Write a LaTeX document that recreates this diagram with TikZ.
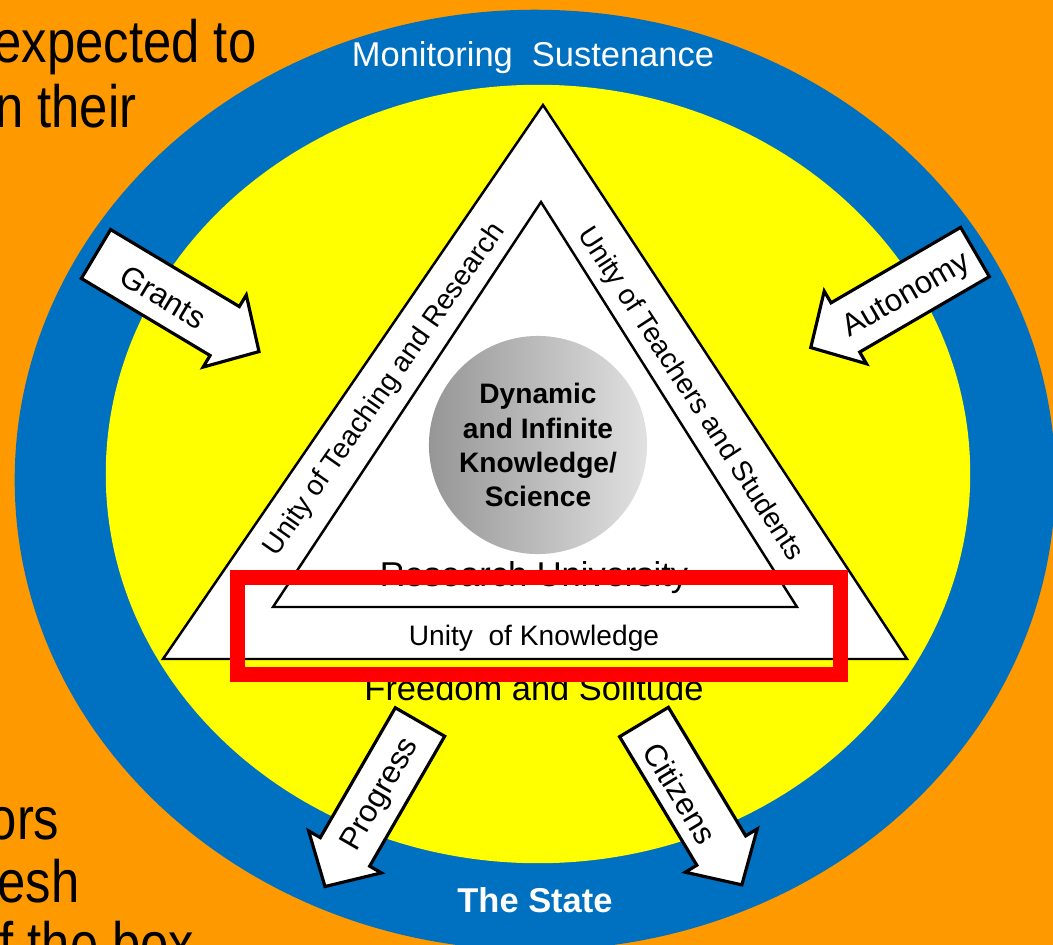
\documentclass[tikz,border=0pt]{standalone}
\usepackage{fontspec}
\setmainfont{Liberation Sans}
\definecolor{bgorange}{RGB}{255,153,0}
\definecolor{ringblue}{RGB}{0,112,192}
\definecolor{ringyellow}{RGB}{255,255,0}
\definecolor{boxred}{RGB}{255,0,0}
\definecolor{circdark}{RGB}{150,150,150}
\definecolor{circlight}{RGB}{225,225,225}
\newcommand{\blkarrow}[3]{%
  \begin{scope}[shift={#2}, rotate=#3]
    \draw[arrowbody] (0,-28.5) -- (150,-28.5) -- (150,-42) -- (190,0)
      -- (150,42) -- (150,28.5) -- (0,28.5) -- cycle;
    \coordinate (#1) at (95,0);
  \end{scope}}
\begin{document}
\begin{tikzpicture}[x=0.01cm, y=-0.01cm,
  arrowbody/.style={draw=black, line width=0.9pt, fill=white, line join=miter},
  tri/.style={draw=black, line width=0.7pt, fill=white, line join=miter},
  biglabel/.style={inner sep=0pt, font=\fontsize{9.8}{11}\selectfont},
  sidelabel/.style={inner sep=0pt, font=\fontsize{8}{9}\selectfont},
  arrowlabel/.style={inner sep=0pt, font=\fontsize{8.9}{10}\selectfont},
  slidetext/.style={inner sep=0pt, xscale=0.85, font=\fontsize{17}{20}\selectfont}]
\useasboundingbox (0,0) rectangle (1053,945);
\clip (0,0) rectangle (1053,945);
\fill[bgorange] (0,0) rectangle (1053,945);
% slide text
\node[slidetext, anchor=base east] (s1) at (257,62) {expected to};
\node[slidetext, anchor=base east] (s2) at (137,127) {n their};
\node[slidetext, anchor=base east] (s3) at (60,840) {ors};
\node[slidetext, anchor=base east] (s4) at (80,902) {esh};
\node[slidetext, anchor=base east] (s5) at (195,965) {f the box};
% rings
\fill[ringblue] (535,480) ellipse [x radius=5.2cm, y radius=4.7cm];
\fill[ringyellow] (538,474) ellipse [x radius=4.32cm, y radius=3.89cm];
\node[biglabel, text=white] (mon) at (533,58) {Monitoring\ \ Sustenance};
\node[biglabel, text=white, font=\fontsize{9.8}{11}\selectfont\bfseries] (state) at (535,900) {The State};
% triangles
\draw[tri] (543,105) coordinate (oa) -- (907,659) coordinate (or) -- (163,659) coordinate (ol) -- cycle;
\draw[tri] (541,202) coordinate (ia) -- (797,607) coordinate (ir) -- (273,607) coordinate (il) -- cycle;
% centre circle
\shade[left color=circdark, right color=circlight] (538,445) circle [radius=1.09cm];
\node[inner sep=0pt, align=center, font=\fontsize{8}{9.7}\selectfont\bfseries] (dyn) at (538,445)
  {Dynamic\\and Infinite\\Knowledge/\\Science};
\node[sidelabel, rotate=55] (utr) at (385,390) {Unity of Teaching and Research};
\node[sidelabel, rotate=-57] (uts) at (690,394) {Unity of Teachers and Students};
\node[biglabel] (ru) at (534,578) {Research University};
\node[sidelabel] (uk) at (534,638) {Unity\ \ of Knowledge};
\node[biglabel] (fs) at (534,688) {Freedom and Solitude};
% arrows
\blkarrow{ag}{(96,254)}{-30.9}
\blkarrow{aa}{(975,252)}{210.2}
\blkarrow{ap}{(420,722)}{-120}
\blkarrow{ac}{(644,722)}{-59}
\node[arrowlabel, rotate=-31] (tg) at (163,297) {Grants};
\node[arrowlabel, rotate=30] (ta) at (907,296) {Autonomy};
\node[arrowlabel, rotate=60] (tp) at (381,795) {Progress};
\node[arrowlabel, rotate=-59] (tc) at (680,793) {Citizens};
% red highlight box
\draw[boxred, line width=4.27pt] (237.5,577.5) rectangle (840.5,674.5);
\end{tikzpicture}
\end{document}
